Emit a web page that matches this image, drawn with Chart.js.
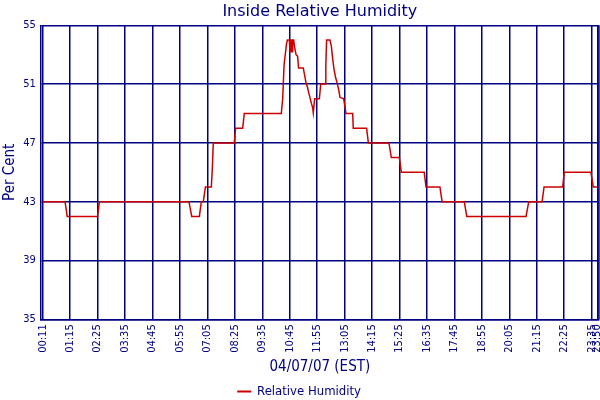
<!DOCTYPE html>
<html>
<head>
<meta charset="utf-8">
<script src="https://cdn.jsdelivr.net/npm/chart.js@4"></script>
<style>html,body{margin:0;padding:0;background:#fff}</style>
</head>
<body>
<canvas id="c" width="600" height="400"></canvas>
<script>
// Sample position (one step per logged reading) and relative humidity (%)
const sampleIndex = [
  0, 11.4, 12.5, 28, 28.9, 74.6, 76, 79.9, 80.9, 81.9,
  83, 86, 86.5, 87, 97.7, 98.4, 102, 102.8, 121.7, 122.4,
  122.7, 123.1, 123.8, 124.3, 124.8, 125.8, 126.15, 126.5, 126.9, 127.2,
  127.5, 128, 128.5, 129.2, 130, 130.5, 132.9, 133.6, 134.3, 135,
  135.7, 136.3, 137, 137.7, 138, 138.7, 141.1, 141.8, 144, 144.4,
  144.8, 146.5, 147.2, 147.9, 148.6, 149.3, 150.3, 151, 151.6, 153.5,
  154.7, 158.1, 158.4, 165.2, 166.1, 176.6, 177.8, 181.9, 182.9, 194.6,
  195.5, 202.6, 203.7, 215, 216.3, 246.5, 247.9, 254.7, 255.7, 265.2,
  266, 279.6, 280.8, 283
];
const humidity = [
  43, 43, 42, 42, 43, 43, 42, 42, 43, 43,
  44, 44, 45.2, 47, 47, 48, 48, 49, 49, 50,
  51, 52.3, 53.1, 53.7, 54, 54, 53.2, 54, 54, 53.2,
  54, 54, 53.5, 53.0, 52.9, 52.1, 52.1, 51.6, 51.1, 50.8,
  50.4, 50.1, 49.7, 49.4, 49.05, 50, 50, 51, 51, 52.3,
  54, 54, 53.6, 52.7, 52, 51.5, 51, 50.6, 50.1, 50,
  49, 49, 48, 48, 47, 47, 46, 46, 45, 45,
  44, 44, 43, 43, 42, 42, 43, 43, 44, 44,
  45, 45, 44, 44
];
const tickIndex = [0, 14, 28, 42, 56, 70, 84, 98, 112, 126, 140, 154, 168, 182, 196, 210, 224, 238, 252, 266, 280, 283];
const tickLabels = ['00:11','01:15','02:25','03:35','04:45','05:55','07:05','08:25','09:35','10:45','11:55','13:05','14:15','15:25','16:35','17:45','18:55','20:05','21:15','22:25','23:35','23:50'];
const yTicks = [35, 39, 43, 47, 51, 55];

const navy = '#000080';
const red = '#CC0000';
const cond = "'DejaVu Sans Condensed', 'Liberation Sans', sans-serif";
const wide = "'DejaVu Sans', Verdana, sans-serif";

const points = sampleIndex.map((x, i) => ({x: x, y: humidity[i]}));

const frame = {
  id: 'frame',
  beforeDatasetsDraw(chart) {
    const {ctx, chartArea: a} = chart;
    ctx.save();
    ctx.strokeStyle = navy;
    ctx.lineWidth = 1.5;
    ctx.beginPath();
    ctx.moveTo(a.right, a.top);
    ctx.lineTo(a.right, a.bottom);
    ctx.stroke();
    ctx.restore();
  }
};

new Chart(document.getElementById('c'), {
  type: 'line',
  data: {
    datasets: [{
      label: 'Relative Humidity',
      data: points,
      borderColor: red,
      backgroundColor: red,
      borderWidth: 1.5,
      pointRadius: 0,
      tension: 0,
      fill: false
    }]
  },
  options: {
    responsive: false,
    animation: false,
    layout: {padding: {top: 0, left: 0, right: 1.05, bottom: -8}},
    plugins: {
      title: {
        display: true,
        text: 'Inside Relative Humidity',
        color: navy,
        fullSize: false,
        font: {family: wide, size: 16, weight: 'normal'},
        padding: {top: 1.8, bottom: 4.3}
      },
      legend: {
        position: 'bottom',
        labels: {
          color: navy,
          font: {family: cond, size: 13},
          boxWidth: 12.6,
          boxHeight: 0.5,
          padding: 10
        }
      },
      tooltip: {enabled: false}
    },
    scales: {
      x: {
        type: 'linear',
        min: -1,
        max: 283.7,
        afterBuildTicks: s => { s.ticks = tickIndex.map(v => ({value: v})); },
        afterFit: s => { s.height = 55.7; s.paddingLeft = 0; s.paddingRight = 0; },
        ticks: {
          autoSkip: false, minRotation: 90, maxRotation: 90, padding: 5,
          color: navy, font: {family: cond, size: 11},
          callback: (v, i) => tickLabels[i]
        },
        grid: {color: navy, lineWidth: 1.5, drawTicks: false},
        border: {display: true, color: navy, width: 1.5},
        title: {display: true, text: '04/07/07 (EST)', color: navy, font: {family: cond, size: 15}, padding: {top: 0, bottom: -1}}
      },
      y: {
        min: 35,
        max: 55,
        afterBuildTicks: s => { s.ticks = yTicks.map(v => ({value: v})); },
        afterFit: s => { s.width = 40.74; s.paddingTop = 0; s.paddingBottom = 0; },
        ticks: {padding: 5, color: navy, font: {family: cond, size: 11}},
        grid: {color: navy, lineWidth: 1.5, drawTicks: false},
        border: {display: true, color: navy, width: 1.5},
        title: {display: true, text: 'Per Cent', color: navy, font: {family: cond, size: 15}, padding: {top: 1, bottom: 0}}
      }
    }
  },
  plugins: [frame]
});
</script>
</body>
</html>
